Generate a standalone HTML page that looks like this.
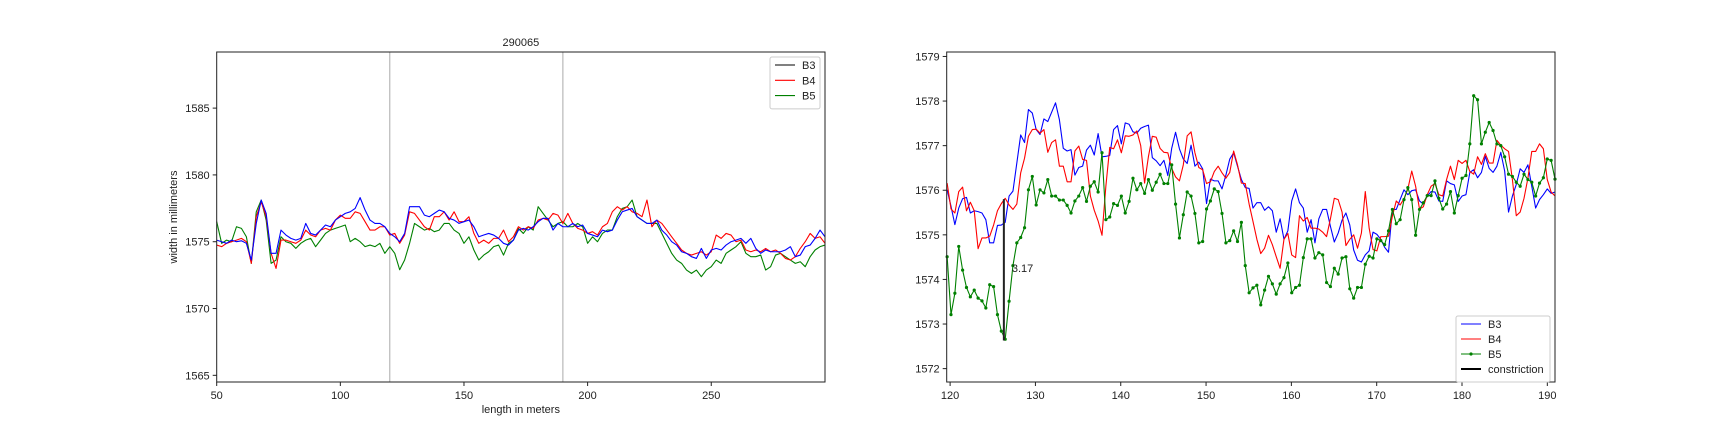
<!DOCTYPE html>
<html><head><meta charset="utf-8">
<style>
html,body{margin:0;padding:0;background:#fff;}
svg{display:block;font-family:"Liberation Sans",sans-serif;}
text{fill:#222;font-size:11px;}
</style></head>
<body>
<svg id="fig" width="1728" height="432" viewBox="0 0 1728 432">
<g id="left"></g>
<g id="right"></g>
</svg>
<script>
// ---- Left chart data ----
const leftXStart = 50;
const leftXStep = 2;
const leftB3 = [1575.12,1575,1574.88,1575.12,1575,1575.07,1574.88,1573.63,1576.37,1578.12,1577.12,1574.13,1574.13,1575.87,1575.5,1575.25,1575.12,1575.25,1576.37,1575.62,1575.5,1575.87,1576.25,1576.12,1576.62,1576.87,1577.12,1577.24,1577.49,1578.3,1577.37,1576.62,1576.37,1576.37,1576.12,1575.62,1575.37,1575,1575.62,1577.62,1577.62,1577.62,1576.99,1576.87,1577.12,1577.37,1577.24,1576.75,1576.62,1576.37,1576.5,1576.62,1576.12,1575.37,1575.5,1575.62,1575.5,1575.25,1574.88,1574.75,1575.12,1575.87,
1576.0,1575.87,1576.12,1576.5,1576.75,1576.75,1575.87,1576.37,1576.12,1576.12,1576.37,1576.12,1576.25,1575.62,1575.5,1575.37,1575.87,1575.75,1575.87,1576.62,1577.24,1577.37,1577.49,1576.87,1576.62,1576.37,1576.37,1576.62,1575.87,1575.5,1575,1574.75,1574.25,1574.13,1573.88,1573.75,1574.5,1573.75,1574.38,1574.5,1574.38,1574.75,1575,1575.12,1575.25,1574.88,1575.25,1574.5,1574.13,1574.38,1574.25,1574.25,1574.25,1574.38,1574.63,1573.88,1574.0,1574.63,1574.75,1575.25,1575.87,1575.37];
const leftB4 = [1574.75,1574.63,1574.88,1575,1575.12,1575.25,1575,1573.38,1576.87,1577.99,1576.87,1574.13,1573.0,1575.12,1575.12,1575,1574.88,1575.12,1575.87,1575.5,1575.37,1575.87,1576.0,1575.87,1576.62,1576.99,1576.75,1576.75,1577.24,1577.12,1576.5,1575.87,1575.87,1576.12,1576.12,1575.5,1575.62,1574.88,1575.5,1577.24,1577.12,1576.62,1576.12,1575.87,1576.87,1576.87,1577.24,1576.62,1577.24,1576.5,1576.5,1576.87,1575.62,1574.88,1575.12,1574.88,1575.25,1575.25,1575.87,1575,1575.37,1576.12,
1575.87,1576.12,1576.0,1576.62,1576.75,1576.62,1577.12,1576.99,1576.37,1577.12,1576.37,1576.0,1575.87,1575.62,1575.75,1575.5,1576.12,1576.37,1577.24,1577.62,1577.37,1577.62,1577.24,1577.12,1576.87,1578.12,1576.12,1576.62,1576.37,1575.87,1575.37,1574.88,1574.38,1574.13,1574.0,1574.13,1574.25,1574.0,1574.25,1575.5,1575.25,1575.62,1575.5,1575,1575.12,1574.38,1574.25,1574.38,1574.25,1574.5,1574.25,1574.38,1574.13,1573.75,1573.63,1573.88,1574.5,1575,1575.62,1575.25,1575.37,1574.88];
const leftB5 = [1576.5,1574.88,1575.12,1575,1576.12,1576.0,1575.37,1573.38,1577.24,1578.12,1576.62,1573.38,1573.63,1575.37,1575,1574.88,1574.5,1574.88,1575.12,1575.25,1574.63,1575.12,1575.62,1575.87,1576.0,1576.12,1576.25,1575,1575.25,1575,1574.63,1574.75,1574.63,1574.88,1574.13,1574.63,1574.13,1572.9,1573.63,1574.88,1576.37,1576.12,1575.87,1576.0,1575.75,1575.87,1576.37,1576.37,1575.87,1575.62,1574.88,1575.37,1574.38,1573.63,1574.0,1574.25,1574.63,1574.75,1574.0,1574.88,1575.12,1576.0,
1575.62,1576.12,1575.87,1577.62,1577.12,1576.62,1576.12,1576.37,1576.5,1576.12,1576.12,1576.37,1576.12,1574.88,1575.37,1575,1575.62,1575.87,1575.87,1576.87,1577.49,1577.62,1578.12,1576.87,1576.62,1576.37,1576.37,1576.37,1575.62,1574.88,1574.13,1573.63,1573.38,1572.88,1572.63,1572.88,1572.38,1572.88,1573.13,1573.63,1573.38,1574.13,1574.38,1574.63,1575,1574.13,1573.88,1573.88,1574.0,1572.88,1573.13,1574.0,1574.13,1573.88,1573.63,1573.38,1573.5,1573.13,1573.88,1574.38,1574.63,1574.75];
const leftXTicks = [50,100,150,200,250];
const leftYTicks = [1565,1570,1575,1580,1585];
const leftVLines = [120,190];

// ---- Right chart data ----
const rightXStart = 119.65;
const rightXEnd = 190.9;
const rightB3 = [1576.01,1575.64,1575.23,1575.6,1575.81,1575.84,1575.49,1575.54,1575.52,1575.49,1575.34,1574.82,1574.82,1575.21,1575.22,1575.28,1575.87,1575.98,1576.61,1577.24,1577.07,1577.81,1577.73,1577.36,1577.25,1577.6,1577.54,1577.75,1577.96,1577.58,1576.94,1576.88,1576.91,1576.34,1576.51,1576.54,1576.9,1577.01,1576.79,1577.27,1576.75,1576.76,1576.78,1577.36,1577.45,1577.04,1577.51,1577.48,1577.31,1577.28,1577.39,1577.43,1577.46,1576.73,
1576.66,1576.55,1576.67,1576.33,1576.94,1577.3,1576.93,1576.7,1576.6,1577.01,1576.54,1576.63,1576.48,1575.7,1576.25,1576.21,1576.21,1576.03,1576.34,1576.7,1576.84,1576.54,1576.24,1576.06,1576.04,1575.6,1575.72,1575.72,1575.55,1575.63,1575.54,1575.06,1575.36,1574.9,1575.09,1575.76,1576.03,1575.72,1575.6,1575.06,1575.34,1574.82,1575.36,1575.57,1575.57,1575.19,1574.84,1575.04,1575.33,1575.49,1575.22,1574.66,1574.43,1574.39,1574.55,1574.64,1575.06,1575.01,1574.9,1574.72,1574.61,1575.57,1575.57,1575.79,1576.01,1575.9,1575.99,1576.01,1575.76,1575.69,
1575.87,1575.97,1575.96,1575.76,1575.75,1576.21,1576.15,1576.12,1575.75,1575.87,1575.9,1576.4,1576.46,1576.28,1576.4,1576.76,1576.49,1576.4,1576.54,1576.85,1576.43,1575.51,1575.87,1576.13,1576.48,1576.4,1576.57,1576.09,1575.6,1575.79,1575.9,1576.03,1575.93,1575.96];
const rightB4 = [1576.16,1575.58,1575.49,1575.97,1576.07,1575.54,1575.73,1575.54,1574.69,1574.93,1574.93,1574.97,1575.22,1575.54,1575.7,1575.82,1575.67,1575.57,1575.69,1576.39,1576.72,1577.21,1577.36,1577.37,1577.28,1577.36,1576.85,1577.07,1577.13,1576.54,1576.54,1576.19,1576.19,1576.88,1576.99,1576.69,1576.67,1575.87,1575.55,1575.31,1574.99,1576.09,1576.96,1576.93,1577.13,1576.84,1577.22,1577.21,1577.24,1577.33,1577.0,1576.16,1576.76,1577.21,
1577.19,1576.94,1576.85,1576.84,1576.49,1576.3,1576.21,1576.57,1577.22,1577.31,1576.84,1576.51,1576.46,1576.15,1576.19,1576.42,1576.54,1576.39,1576.27,1576.4,1576.88,1576.57,1576.16,1576.15,1575.69,1575.3,1574.9,1574.58,1574.7,1574.99,1574.78,1574.51,1574.25,1574.9,1575.03,1574.55,1574.49,1575.43,1575.31,1575.39,1575.15,1575.15,1575.13,1575.06,1574.96,1575.36,1575.82,1575.79,1575.51,1574.76,1574.9,1575.0,1574.7,1575.04,1575.97,1575.15,1574.67,1574.64,1574.96,1574.96,1574.97,1575.42,1575.76,1575.67,1575.81,1576.03,1576.43,1576.09,1575.58,1575.63,
1575.9,1576.09,1576.15,1575.9,1575.87,1576.24,1576.54,1576.24,1576.67,1576.6,1576.67,1576.42,1576.36,1576.75,1576.58,1576.82,1576.61,1576.61,1577.12,1577.01,1576.93,1576.87,1576.24,1575.43,1575.51,1575.82,1576.27,1576.87,1576.87,1577.04,1576.93,1576.24,1575.96,1575.87];
const rightB5 = [1574.51,1573.21,1573.69,1574.74,1574.21,1573.82,1573.61,1573.76,1573.58,1573.52,1573.36,1573.88,1573.84,1573.21,1572.84,1572.66,1573.51,1574.31,1574.82,1574.94,1575.16,1576.01,1576.31,1575.67,1576.01,1575.94,1576.24,1575.87,1575.87,1575.78,1575.78,1575.66,1575.49,1575.76,1575.87,1576.06,1575.75,1576.09,1576.19,1575.96,1576.84,1575.34,1575.4,1575.7,1575.66,1575.87,1575.49,1575.75,1576.27,1576.01,1576.15,1575.93,1576.24,1576.0,
1576.18,1576.36,1576.15,1576.15,1576.57,1575.69,1574.93,1575.45,1575.96,1575.87,1575.48,1574.82,1574.85,1575.58,1575.76,1576.03,1575.97,1575.48,1574.82,1574.87,1575.09,1574.85,1575.28,1574.31,1573.7,1573.81,1573.87,1573.43,1573.76,1574.07,1573.9,1573.67,1573.9,1574.04,1574.37,1573.7,1573.82,1573.87,1574.49,1574.91,1574.91,1574.48,1574.6,1574.55,1573.93,1573.84,1574.25,1574.12,1574.48,1574.51,1573.79,1573.58,1573.82,1573.82,1574.34,1574.52,1574.48,1574.91,1574.87,1574.78,1575.09,1575.57,1575.25,1575.34,1575.79,1576.06,1575.79,1574.99,1575.57,1575.72,
1575.88,1575.88,1576.21,1575.82,1575.58,1575.69,1575.97,1575.49,1575.88,1576.27,1576.33,1577.04,1578.12,1578.03,1577.04,1577.3,1577.52,1577.34,1577.04,1577.0,1576.75,1576.36,1576.31,1576.18,1576.09,1576.36,1576.24,1576.18,1575.87,1576.16,1576.28,1576.7,1576.67,1576.25];
const constrictionX = 126.3;
const constrictionLow = 1572.63;
const constrictionHigh = 1575.8;
const constrictionLabel = "3.17";
const rightXTicks = [120,130,140,150,160,170,180,190];
const rightYTicks = [1572,1573,1574,1575,1576,1577,1578,1579];

const NS = "http://www.w3.org/2000/svg";
function mk(parent, tag, attrs, text){
  const e = document.createElementNS(NS, tag);
  for (const k in attrs) e.setAttribute(k, attrs[k]);
  if (text !== undefined) e.textContent = text;
  parent.appendChild(e);
  return e;
}
function scale(d0,d1,r0,r1){ return v => r0 + (v-d0)/(d1-d0)*(r1-r0); }

function axesFrame(g, L, T, R, B, sx, sy, xt, yt){
  for (const t of xt){
    const x = sx(t);
    const tk = mk(g,'line',{x1:x,x2:x,y1:B,y2:B+4,stroke:'#222','stroke-width':1});
    
    
    const lb = mk(g,'text',{x:x,y:B+17,'text-anchor':'middle'},String(t));
    
    
  }
  for (const t of yt){
    const y = sy(t);
    const tk = mk(g,'line',{x1:L-4,x2:L,y1:y,y2:y,stroke:'#222','stroke-width':1});
    
    
    const lb = mk(g,'text',{x:L-7,y:y+4,'text-anchor':'end'},String(t));
    
    
  }
}
function frame(g,L,T,R,B){
  const f = mk(g,'rect',{x:L,y:T,width:R-L,height:B-T,fill:'none',stroke:'#222','stroke-width':1});
  
  
}
function series(g, xs, vals, sx, sy, color, name, markers){
  const pts = vals.map((v,i)=> sx(xs(i)).toFixed(2)+','+sy(v).toFixed(2)).join(' ');
  const pl = mk(g,'polyline',{points:pts,fill:'none',stroke:color,'stroke-width':1.1,'stroke-linejoin':'round'});
  
  
  if (markers){
    vals.forEach((v,i)=>{
      const c = mk(g,'circle',{cx:sx(xs(i)),cy:sy(v),r:1.6,fill:color});
      
      
    });
  }
}
function legend(g, x, y, w, entries, rowH){
  const bx = mk(g,'rect',{x:x,y:y,width:w,height:entries.length*rowH+6,rx:2,fill:'#fff','fill-opacity':0.85,stroke:'#ccc','stroke-width':1});
  
  
  entries.forEach((e,i)=>{
    const cy = y + 8 + i*rowH;
    const ln = mk(g,'line',{x1:x+5,x2:x+25,y1:cy,y2:cy,stroke:e.c,'stroke-width':e.w||1.1});
    
    
    if (e.m){
      const mc = mk(g,'circle',{cx:x+15,cy:cy,r:1.6,fill:e.c});
      
      
    }
    const tx = mk(g,'text',{x:x+32,y:cy+4},e.t);
    
    
  });
}

// Left chart
(function(){
  const g = document.getElementById('left');
  const L=216.7,R=825,T=52,B=382;
  const sx = scale(50,296,L,R), sy = scale(1564.5,1589.2,B,T);
  for (const v of leftVLines){
    const vl = mk(g,'line',{x1:sx(v),x2:sx(v),y1:T,y2:B,stroke:'#aaa','stroke-width':1});
    
    
  }
  const xs = i => leftXStart + i*leftXStep;
  series(g, xs, leftB5, sx, sy, 'green', 'left-b5-line', false);
  series(g, xs, leftB4, sx, sy, 'red', 'left-b4-line', false);
  series(g, xs, leftB3, sx, sy, 'blue', 'left-b3-line', false);
  frame(g,L,T,R,B);
  axesFrame(g,L,T,R,B,sx,sy,leftXTicks,leftYTicks);
  const ti = mk(g,'text',{x:(L+R)/2,y:46,'text-anchor':'middle','font-size':'14px'},'290065');
  
  
  const xl = mk(g,'text',{x:(L+R)/2,y:413,'text-anchor':'middle'},'length in meters');
  
  
  const yl = mk(g,'text',{x:0,y:0,'text-anchor':'middle',transform:'translate(177,217) rotate(-90)'},'width in millimeters');
  
  
  legend(g, 770, 57, 50, [{t:'B3',c:'#000'},{t:'B4',c:'red'},{t:'B5',c:'green'}], 15.3);
})();

// Right chart
(function(){
  const g = document.getElementById('right');
  const L=946.7,R=1555,T=52,B=382;
  const sx = scale(119.6,190.9,L,R), sy = scale(1571.7,1579.1,B,T);
  const n = rightB5.length;
  const step3 = (rightXEnd-rightXStart)/(rightB3.length-1);
  const step4 = (rightXEnd-rightXStart)/(rightB4.length-1);
  const step5 = (rightXEnd-rightXStart)/(n-1);
  series(g, i=>rightXStart+i*step3, rightB3, sx, sy, 'blue', 'right-b3-line', false);
  series(g, i=>rightXStart+i*step4, rightB4, sx, sy, 'red', 'right-b4-line', false);
  series(g, i=>rightXStart+i*step5, rightB5, sx, sy, 'green', 'right-b5-line', true);
  const cl = mk(g,'line',{x1:sx(constrictionX),x2:sx(constrictionX),y1:sy(constrictionLow),y2:sy(constrictionHigh),stroke:'#222','stroke-width':2});
  
  
  const ct = mk(g,'text',{x:sx(constrictionX)+8,y:sy((constrictionLow+constrictionHigh)/2)+2},constrictionLabel);
  
  
  frame(g,L,T,R,B);
  axesFrame(g,L,T,R,B,sx,sy,rightXTicks,rightYTicks);
  legend(g, 1456, 316, 94, [{t:'B3',c:'blue'},{t:'B4',c:'red'},{t:'B5',c:'green',m:true},{t:'constriction',c:'#000',w:2}], 15);
})();
</script>
</body></html>
